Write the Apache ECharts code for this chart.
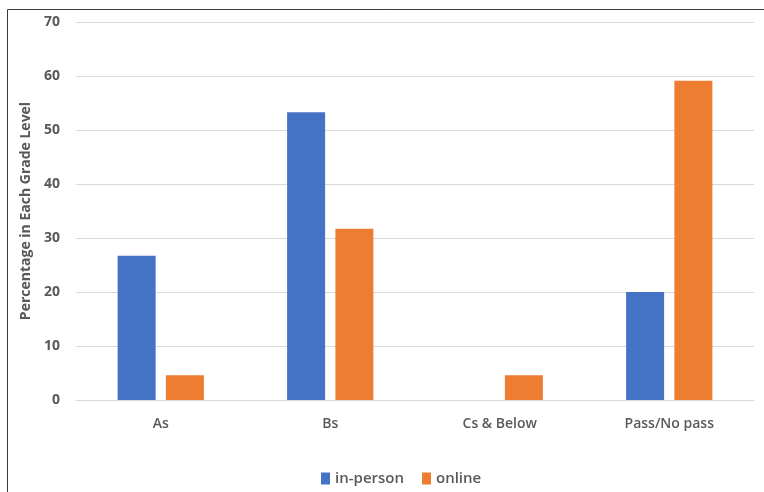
<!DOCTYPE html>
<html><head><meta charset="utf-8">
<script src="https://cdn.jsdelivr.net/npm/echarts@6/dist/echarts.min.js"></script>
<style>html,body{margin:0;padding:0;background:#fff}#c{width:764px;height:492px}</style>
</head><body><div id="c"></div>
<script>
const categories = ['As', 'Bs', 'Cs & Below', 'Pass/No pass'];
const inPerson = [26.7, 53.3, 0, 20];
const online = [4.6, 31.7, 4.6, 59.1];
const yTicks = {min: 0, max: 70, interval: 10};

const chart = echarts.init(document.getElementById('c'));
const font = '"Open Sans", "Noto Sans", sans-serif';
chart.setOption({
  animation: false,
  graphic: [{type: 'rect', shape: {x: 7.5, y: 9.5, width: 900, height: 700}, style: {fill: 'none', stroke: '#3a3a3a', lineWidth: 1}}],
  grid: {left: 76, right: 10, top: 22, bottom: 92},
  legend: {
    bottom: 1, left: 316, itemWidth: 9, itemHeight: 12, itemGap: 18,
    icon: 'rect',
    textStyle: {fontFamily: font, fontSize: 15, color: '#595959', fontWeight: 600},
    data: ['in-person', 'online']
  },
  xAxis: {
    type: 'category', data: categories,
    axisLine: {show: true, lineStyle: {color: '#d9d9d9'}},
    axisTick: {show: false},
    axisLabel: {fontFamily: font, fontSize: 14, color: '#595959', fontWeight: 600, margin: 17}
  },
  yAxis: {
    type: 'value', min: yTicks.min, max: yTicks.max, interval: yTicks.interval,
    name: 'Percentage in Each Grade Level', nameLocation: 'middle', nameGap: 39,
    nameTextStyle: {fontFamily: font, fontSize: 14, color: '#595959', fontWeight: 'bold'},
    axisLine: {show: false}, axisTick: {show: false},
    splitLine: {lineStyle: {color: '#d9d9d9'}},
    axisLabel: {fontFamily: font, fontSize: 14, color: '#595959', fontWeight: 'bold', margin: 16}
  },
  series: [
    {name: 'in-person', type: 'bar', data: inPerson, barWidth: 38, barGap: '27%',
     itemStyle: {color: '#4472C4'}},
    {name: 'online', type: 'bar', data: online, barWidth: 38,
     itemStyle: {color: '#ED7D31'}}
  ]
});
</script></body></html>
